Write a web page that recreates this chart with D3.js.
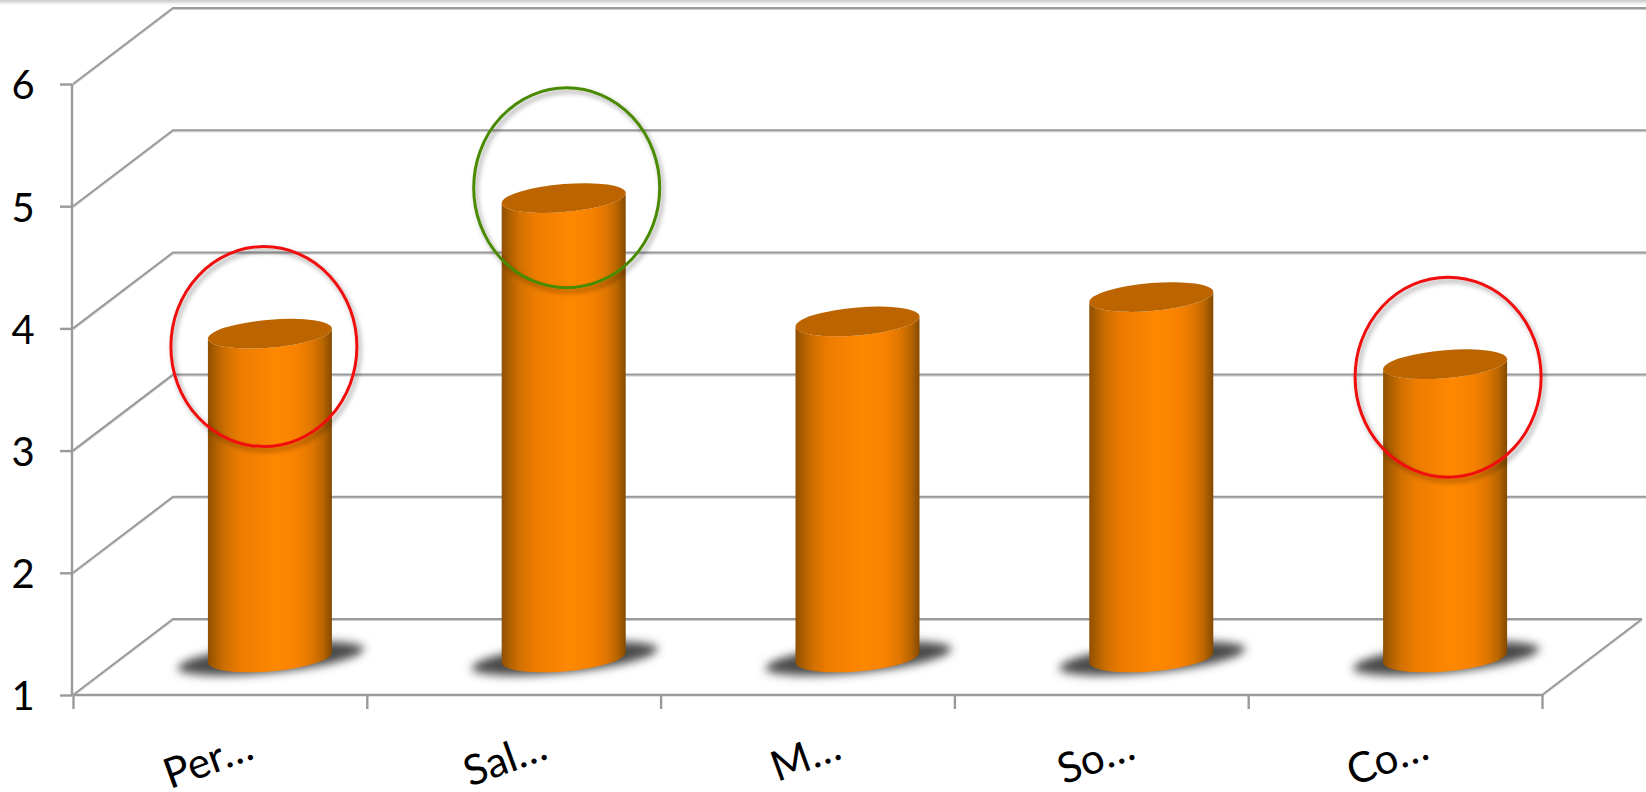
<!DOCTYPE html>
<html><head><meta charset="utf-8">
<script src="https://cdn.jsdelivr.net/npm/d3@7"></script>
<style>html,body{margin:0;padding:0;background:#fff;overflow:hidden}svg{display:block}text{font-family:Lato,"Noto Sans",sans-serif;fill:#000}</style>
</head><body><script>
const categories = ["Per…","Sal…","M…","So…","Co…"];
const values = [3.65,4.76,3.75,3.95,3.40];
const yTicks = [1,2,3,4,5,6];
const circledCategories = ["Per…","Sal…","Co…"];
const circleValues = [3.54,4.84,3.29];
const circleColors = ["#f01010","#4a8a05","#f01010"];

const W=1646,H=792;
const depthX=100,depthY=76;
const svg=d3.select("body").append("svg").attr("width",W).attr("height",H);
const defs=svg.append("defs");
const y=d3.scaleLinear().domain([1,6]).range([695,84]);
const x=d3.scaleBand().domain(categories).range([73,1542]);
const xEdge=d3.scaleLinear().domain([0,categories.length]).range([73,1542]);

// defs
const g1=defs.append("linearGradient").attr("id","cyl");
[[0,"#8f4f00"],[.06,"#ad5f00"],[.14,"#d06f00"],[.26,"#ec7c00"],[.42,"#f88200"],[.55,"#ff8800"],[.72,"#f88200"],[.84,"#e07600"],[.93,"#b86500"],[1,"#844a00"]]
 .forEach(s=>g1.append("stop").attr("offset",s[0]).attr("stop-color",s[1]));
const g2=defs.append("linearGradient").attr("id","topshade").attr("x1",0).attr("x2",0).attr("y1",0).attr("y2",1);
g2.append("stop").attr("offset",0).attr("stop-color","#c9c9c9");
g2.append("stop").attr("offset",1).attr("stop-color","#ffffff");
defs.append("filter").attr("id","blur").attr("x","-20%").attr("y","-60%").attr("width","140%").attr("height","220%")
 .append("feGaussianBlur").attr("stdDeviation",5);
const f=defs.append("filter").attr("id","ds").attr("x","-10%").attr("y","-10%").attr("width","125%").attr("height","125%");
f.append("feDropShadow").attr("dx",2.5).attr("dy",3.5).attr("stdDeviation",2.5).attr("flood-color","#000").attr("flood-opacity",.38);
const lf=defs.append("filter").attr("id","ls").attr("filterUnits","userSpaceOnUse").attr("x",0).attr("y",0).attr("width",W).attr("height",H);
lf.append("feDropShadow").attr("dx",0).attr("dy",1).attr("stdDeviation",.7).attr("flood-color","#000").attr("flood-opacity",.2);

svg.append("rect").attr("width",W).attr("height",5).attr("fill","url(#topshade)");

// walls
const gridColor="#9a9a9a";
const grid=svg.append("g").attr("fill","none").attr("stroke",gridColor).attr("stroke-width",2).attr("filter","url(#ls)");
grid.selectAll("path").data(yTicks).join("path")
 .attr("d",d=>{
   const px=x.range()[0], py=y(d);
   const endX=d===1?x.range()[1]+depthX:W;
   return d3.line()([[px,py],[px+depthX,py-depthY],[endX,py-depthY]]);
 });
grid.append("path").attr("d",d3.line()([[x.range()[1],y(1)],[x.range()[1]+depthX,y(1)-depthY]]));

// axes
const yAxis=svg.append("g").attr("transform",`translate(${x.range()[0]-1},0)`)
 .call(d3.axisLeft(y).tickValues(yTicks).tickSize(12).tickPadding(27).tickFormat(d3.format("d")));
const xAxis=svg.append("g").attr("transform",`translate(0,${y(1)})`)
 .call(d3.axisBottom(xEdge).tickValues(d3.range(categories.length+1)).tickSize(14).tickFormat(""));
[yAxis,xAxis].forEach(a=>{a.selectAll("path.domain").attr("stroke",gridColor).attr("stroke-width",2.4);
 a.selectAll("line").attr("stroke",gridColor).attr("stroke-width",2.4);});
yAxis.select("path.domain").attr("d",`M0,${y(6)}V${y(1)}`);
xAxis.select("path.domain").attr("d",`M${x.range()[0]},0H${x.range()[1]}`);
yAxis.selectAll("text").attr("font-size",40).attr("dy","0.37em").attr("text-anchor","middle").attr("x",-49).style("font-family","Lato");

// x labels
svg.append("g").selectAll("text").data(categories).join("text")
 .attr("font-size",42).attr("text-anchor","end")
 .attr("transform",d=>`translate(${x(d)+x.bandwidth()/2+36},${y(1)+63}) rotate(-20)`)
 .text(d=>d);

// cylinders
const rx=62,ry=14,sh=-5/62;
const cx=d=>x(d)+x.bandwidth()/2+depthX/2;
const baseY=y(1)-depthY/2+.5;
const bars=svg.append("g").selectAll("g").data(categories.map((c,i)=>({c,v:values[i]}))).join("g");
bars.append("ellipse").attr("rx",93).attr("ry",14).attr("fill","#4a4a4a").attr("filter","url(#blur)")
 .attr("transform",d=>`matrix(1,-0.1,0,1,${cx(d.c)+1},${baseY+1})`);
bars.append("path").attr("fill","url(#cyl)")
 .attr("transform",d=>`matrix(1,${sh},0,1,${cx(d.c)},0)`)
 .attr("d",d=>{const t=y(d.v)-depthY/2+.5;
   return `M${-rx},${t}L${-rx},${baseY}A${rx},${ry} 0 0 0 ${rx},${baseY}L${rx},${t}A${rx},${ry} 0 0 1 ${-rx},${t}Z`;});
bars.append("ellipse").attr("rx",rx).attr("ry",ry).attr("fill","#bb6400")
 .attr("transform",d=>`matrix(1,${sh},0,1,${cx(d.c)},${y(d.v)-depthY/2+.5})`);

// annotation circles
svg.append("g").selectAll("ellipse").data(circledCategories).join("ellipse")
 .attr("cx",d=>x(d)+x.bandwidth()/2+depthX/2+(d==="Per…"?-6:d==="Sal…"?3:3))
 .attr("cy",(d,i)=>y(circleValues[i])-depthY/2)
 .attr("rx",93).attr("ry",100).attr("fill","none")
 .attr("stroke",(d,i)=>circleColors[i]).attr("stroke-width",3).attr("filter","url(#ds)");
</script></body></html>
